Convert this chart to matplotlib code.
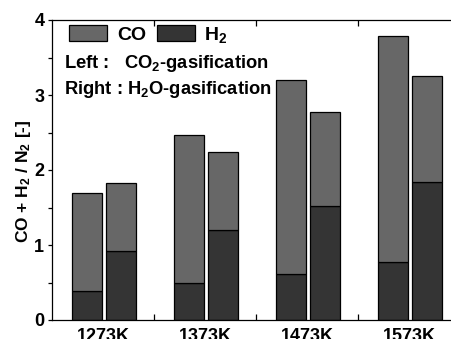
import numpy as np
import matplotlib
matplotlib.use("Agg")
import matplotlib.pyplot as plt
from matplotlib.patches import Patch
from matplotlib.ticker import MultipleLocator, FixedLocator

plt.rcParams['font.family'] = ['Liberation Sans', 'DejaVu Sans']
plt.rcParams['font.weight'] = 'bold'
plt.rcParams['mathtext.fontset'] = 'custom'
plt.rcParams['mathtext.rm'] = 'Liberation Sans:bold'
plt.rcParams['mathtext.bf'] = 'Liberation Sans:bold'
plt.rcParams['mathtext.default'] = 'bf'

temperatures = ['1273K', '1373K', '1473K', '1573K']
# CO2-gasification (left bars)
h2_co2 = [0.39, 0.49, 0.62, 0.78]
co_co2 = [1.30, 1.98, 2.58, 3.01]
# H2O-gasification (right bars)
h2_h2o = [0.92, 1.20, 1.52, 1.835]
co_h2o = [0.91, 1.04, 1.25, 1.415]

co_color = '#676767'
h2_color = '#343434'

fig = plt.figure(figsize=(4.51, 3.39), dpi=100)
ax = fig.add_axes([52 / 451, 19 / 339, 408 / 451, 300 / 339])

x = np.arange(len(temperatures)) + 0.5
width = 0.29
x_left = x - 0.155
x_right = x + 0.178

bar_kw = dict(width=width, edgecolor='black', linewidth=0.9)
ax.bar(x_left, h2_co2, color=h2_color, **bar_kw)
ax.bar(x_left, co_co2, bottom=h2_co2, color=co_color, **bar_kw)
ax.bar(x_right, h2_h2o, color=h2_color, **bar_kw)
ax.bar(x_right, co_h2o, bottom=h2_h2o, color=co_color, **bar_kw)

ax.set_xlim(0, 4)
ax.set_ylim(0, 4)

# y axis
ax.yaxis.set_major_locator(MultipleLocator(1))
ax.yaxis.set_minor_locator(MultipleLocator(0.5))
ax.tick_params(axis='y', which='both', direction='out', length=3, width=0.9,
               labelsize=13, pad=2.5)
for lbl in ax.get_yticklabels():
    lbl.set_fontweight('bold')

# x axis: labels at group centres, short inward ticks at group boundaries
ax.set_xticks(x)
ax.set_xticklabels(temperatures, fontsize=13, fontweight='bold')
ax.xaxis.set_minor_locator(FixedLocator([1, 2, 3]))
ax.tick_params(axis='x', which='major', length=0, pad=6)
ax.tick_params(axis='x', which='minor', direction='in', length=4, width=0.9,
               top=True, bottom=True)

for s in ax.spines.values():
    s.set_linewidth(0.9)

ax.set_ylabel('CO + H$_2$ / N$_2$ [-]', fontsize=12.5, fontweight='bold')
ax.yaxis.set_label_coords(-0.047, 0.463)

handles = [Patch(facecolor=co_color, edgecolor='black', linewidth=0.9),
           Patch(facecolor=h2_color, edgecolor='black', linewidth=0.9)]
ax.legend(handles, ['CO', 'H$_2$'], ncol=2, loc='upper left',
          bbox_to_anchor=(0.042, 0.985), frameon=False, fontsize=14,
          handlelength=1.95, handleheight=0.95, handletextpad=0.5,
          columnspacing=0.55, borderpad=0, borderaxespad=0)

ax.text(0.029, 0.855, 'Left :   CO$_2$-gasification', transform=ax.transAxes,
        fontsize=13.2, fontweight='bold', va='center', ha='left')
ax.text(0.029, 0.77, 'Right : H$_2$O-gasification', transform=ax.transAxes,
        fontsize=13.2, fontweight='bold', va='center', ha='left')

fig.savefig('out.png', dpi=100)
